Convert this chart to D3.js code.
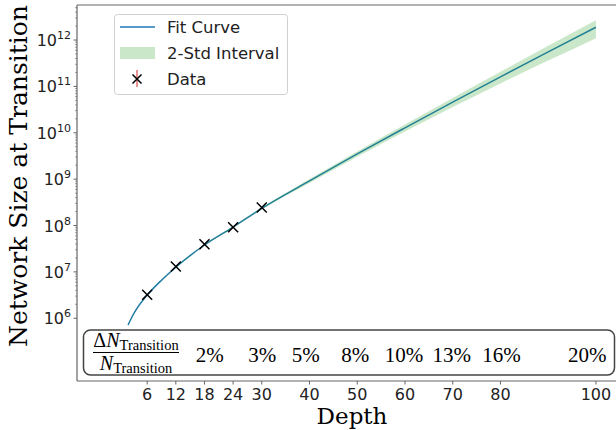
<!DOCTYPE html>
<html>
<head>
<meta charset="utf-8">
<script src="https://cdn.jsdelivr.net/npm/d3@7"></script>
<style>
  body { margin: 0; background: #fff; }
  svg { display: block; }
</style>
</head>
<body>
<svg id="chart" width="616" height="430"></svg>
<script>
// fit curve
const fitDepth = [2, 3, 4, 6, 9, 12, 18, 24, 30, 40, 50, 60, 70, 80, 90, 100]
const fitSize = [7.16e5, 1.16e6, 1.72e6, 3.16e6, 6.61e6, 1.26e7, 3.80e7, 9.23e7, 2.34e8, 9.16e8, 3.50e9, 1.28e10, 4.59e10, 1.61e11, 5.56e11, 1.89e12]
const bandUpper = [7.45e5, 1.20e6, 1.77e6, 3.25e6, 6.78e6, 1.30e7, 3.93e7, 9.60e7, 2.46e8, 1.01e9, 3.96e9, 1.50e10, 5.60e10, 2.06e11, 7.51e11, 2.68e12]
const bandLower = [6.87e5, 1.12e6, 1.67e6, 3.07e6, 6.44e6, 1.22e7, 3.67e7, 8.86e7, 2.22e8, 8.24e8, 3.05e9, 1.06e10, 3.58e10, 1.16e11, 3.61e11, 1.10e12]

// measured points
const dataDepth = [6, 12, 18, 24, 30]
const dataSize = [3.2e6, 1.30e7, 3.96e7, 9.2e7, 2.45e8]

// ticks
const xTicks = [6, 12, 18, 24, 30, 40, 50, 60, 70, 80, 100]
const yTickExp = [6, 7, 8, 9, 10, 11, 12]

// relative change labels in the bottom box
const pctLabels = ['2%', '3%', '5%', '8%', '10%', '13%', '16%', '20%']
const pctDepth = [19.1, 30.1, 39.2, 49.6, 59.8, 69.8, 80.2, 98.2]

const svg = d3.select('#chart')
const mLeft = 77, mTop = 5, mRight = 616, mBottom = 381

const x = d3.scaleLinear().domain([-8.7, 104.2]).range([mLeft, mRight])
const y = d3.scaleLog().domain([4.43e4, 5.70e12]).range([mBottom, mTop])

const axisColor = '#666'
const tickFont = 'DejaVu Sans, sans-serif'
const serif = 'DejaVu Serif, serif'
const mathFont = 'Liberation Serif, Times New Roman, serif'

const fit = fitDepth.map((d, i) => ({ d, v: fitSize[i], hi: bandUpper[i], lo: bandLower[i] }))

// band + fit curve
const area = d3.area()
  .x(p => x(p.d))
  .y0(p => y(p.lo))
  .y1(p => y(p.hi))
  .curve(d3.curveMonotoneX)
const line = d3.line()
  .x(p => x(p.d))
  .y(p => y(p.v))
  .curve(d3.curveMonotoneX)

svg.append('path')
  .attr('d', line(fit))
  .attr('fill', 'none')
  .attr('stroke', '#1f77b4')
  .attr('stroke-width', 1.5)
svg.append('path')
  .attr('d', area(fit))
  .attr('fill', '#2ca02c')
  .attr('fill-opacity', 0.25)

// data markers
const xMark = (g, cx, cy, r) => {
  g.append('path')
    .attr('d', `M${cx - r},${cy - r}L${cx + r},${cy + r}M${cx - r},${cy + r}L${cx + r},${cy - r}`)
    .attr('stroke', '#000')
    .attr('stroke-width', 1.5)
    .attr('fill', 'none')
}
dataDepth.forEach((d, i) => xMark(svg, x(d), y(dataSize[i]), 5))

// spines
svg.append('line').attr('x1', mLeft).attr('x2', mLeft).attr('y1', mTop).attr('y2', mBottom)
  .attr('stroke', axisColor).attr('stroke-width', 1.2)
svg.append('line').attr('x1', mLeft).attr('x2', mRight).attr('y1', mTop).attr('y2', mTop)
  .attr('stroke', axisColor).attr('stroke-width', 1.2)
svg.append('line').attr('x1', mLeft).attr('x2', mRight).attr('y1', mBottom).attr('y2', mBottom)
  .attr('stroke', axisColor).attr('stroke-width', 1.2)

// x ticks
xTicks.forEach(t => {
  svg.append('line').attr('x1', x(t)).attr('x2', x(t)).attr('y1', mBottom).attr('y2', mBottom + 3.5)
    .attr('stroke', axisColor).attr('stroke-width', 1)
  svg.append('text').attr('x', x(t)).attr('y', 400)
    .attr('text-anchor', 'middle')
    .attr('font-family', tickFont).attr('font-size', 16).attr('fill', '#222')
    .text(t)
})

// y ticks (major + minor)
yTickExp.forEach(e => {
  const v = Math.pow(10, e)
  svg.append('line').attr('x1', mLeft - 3.5).attr('x2', mLeft).attr('y1', y(v)).attr('y2', y(v))
    .attr('stroke', axisColor).attr('stroke-width', 1)
  const lbl = svg.append('text').attr('x', 71).attr('y', y(v) + 6)
    .attr('text-anchor', 'end')
    .attr('font-family', tickFont).attr('font-size', 16).attr('fill', '#222')
  lbl.append('tspan').text('10')
  lbl.append('tspan').attr('dy', -7).attr('font-size', 11).text(e)
  for (let k = 2; k < 10; k++) {
    const m = k * v
    if (m > y.domain()[1]) break
    svg.append('line').attr('x1', mLeft - 2).attr('x2', mLeft).attr('y1', y(m)).attr('y2', y(m))
      .attr('stroke', axisColor).attr('stroke-width', 0.6)
  }
})

// axis labels
svg.append('text').attr('x', 352).attr('y', 424)
  .attr('text-anchor', 'middle')
  .attr('font-family', serif).attr('font-size', 23).attr('fill', '#000')
  .text('Depth')
svg.append('text')
  .attr('transform', 'translate(27,176) rotate(-90)')
  .attr('text-anchor', 'middle')
  .attr('font-family', serif).attr('font-size', 25).attr('fill', '#000')
  .text('Network Size at Transition')

// legend
const lg = svg.append('g')
lg.append('rect').attr('x', 114.5).attr('y', 14.5).attr('width', 173).attr('height', 80)
  .attr('rx', 3).attr('fill', '#fff').attr('fill-opacity', 0.8)
  .attr('stroke', '#d0d0d0').attr('stroke-width', 1)
lg.append('line').attr('x1', 120).attr('x2', 155).attr('y1', 27).attr('y2', 27)
  .attr('stroke', '#1f77b4').attr('stroke-width', 1.5)
lg.append('rect').attr('x', 120).attr('y', 47).attr('width', 35).attr('height', 12)
  .attr('fill', '#2ca02c').attr('fill-opacity', 0.25)
lg.append('line').attr('x1', 137).attr('x2', 137).attr('y1', 70).attr('y2', 87)
  .attr('stroke', '#d62728').attr('stroke-width', 1)
xMark(lg, 137, 79, 4.5)
const legendText = ['Fit Curve', '2-Std Interval', 'Data']
legendText.forEach((t, i) => {
  lg.append('text').attr('x', 167).attr('y', 33 + i * 26)
    .attr('font-family', tickFont).attr('font-size', 16.5).attr('fill', '#222')
    .text(t)
})

// bottom box with relative changes
const box = svg.append('g')
box.append('rect').attr('x', 83.5).attr('y', 330).attr('width', 531).attr('height', 45)
  .attr('rx', 7).attr('fill', '#fff')
  .attr('stroke', '#444').attr('stroke-width', 1.5)

const fracCx = 136
const num = box.append('text').attr('x', fracCx).attr('y', 347)
  .attr('text-anchor', 'middle').attr('font-family', mathFont).attr('font-size', 20)
num.append('tspan').text('Δ')
num.append('tspan').attr('font-style', 'italic').text('N')
num.append('tspan').attr('dy', 3).attr('font-size', 14.5).text('Transition')
box.append('line').attr('x1', 93).attr('x2', 179).attr('y1', 352.5).attr('y2', 352.5)
  .attr('stroke', '#000').attr('stroke-width', 1)
const den = box.append('text').attr('x', fracCx).attr('y', 369.5)
  .attr('text-anchor', 'middle').attr('font-family', mathFont).attr('font-size', 20)
den.append('tspan').attr('font-style', 'italic').text('N')
den.append('tspan').attr('dy', 3).attr('font-size', 14.5).text('Transition')

pctLabels.forEach((t, i) => {
  box.append('text').attr('x', x(pctDepth[i])).attr('y', 362)
    .attr('text-anchor', 'middle')
    .attr('font-family', mathFont).attr('font-size', 21).attr('fill', '#000')
    .text(t)
})
</script>
</body>
</html>
